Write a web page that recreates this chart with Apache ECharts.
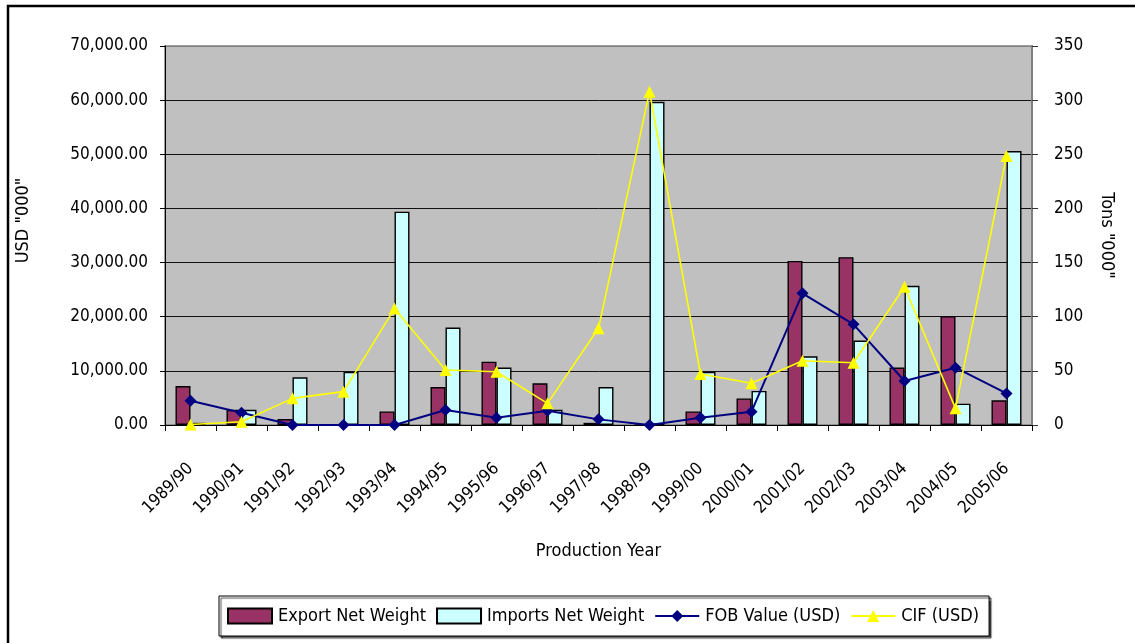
<!DOCTYPE html>
<html>
<head>
<meta charset="utf-8">
<script src="https://cdn.jsdelivr.net/npm/echarts@6/dist/echarts.min.js"></script>
<style>
html,body{margin:0;padding:0;background:#fff;overflow:hidden;}
#chart{width:1135px;height:643px;}
</style>
</head>
<body>
<div id="chart"></div>
<script>
// Categories
const years = ['1989/90','1990/91','1991/92','1992/93','1993/94','1994/95','1995/96','1996/97','1997/98','1998/99','1999/00','2000/01','2001/02','2002/03','2003/04','2004/05','2005/06'];
// Tons "000" (right axis)
const exportNetWeight = [36, 14, 5.5, 0, 12.5, 35, 58.5, 38.5, 2, 0, 12.5, 24.5, 151.5, 155, 53, 100.5, 22.8];
const importsNetWeight = [2, 14, 44, 49, 197, 90, 53, 14, 35, 298.5, 49, 31.5, 63.5, 78, 128.5, 19.7, 253];
// USD "000" (left axis)
const fobValue = [4480, 2280, 0, 0, 0, 2780, 1360, 2640, 1040, 0, 1360, 2460, 24320, 18600, 8120, 10580, 5840];
const cifValue = [100, 600, 4920, 6160, 21500, 10160, 9840, 4000, 17860, 61560, 9420, 7700, 11880, 11500, 25540, 3080, 49680];
// Tick settings
const usdMax = 70000, usdStep = 10000;
const tonsMax = 350, tonsStep = 50;

const FONT = "'Liberation Sans Narrow','Arial Narrow','DejaVu Sans Condensed',sans-serif";
const chart = echarts.init(document.getElementById('chart'), null, {renderer:'canvas'});

const fmtUsd = v => Number(v).toLocaleString('en-US',{minimumFractionDigits:2,maximumFractionDigits:2});

chart.setOption({
  animation:false,
  backgroundColor:'#ffffff',
  textStyle:{fontFamily:FONT},
  graphic:[{
    type:'rect', silent:true, z:-10,
    shape:{x:8, y:6, width:1200, height:700},
    style:{fill:'none', stroke:'#000', lineWidth:2.5}
  }],
  grid:{
    left:165, right:103, top:46, bottom:218,
    show:true, backgroundColor:'#C0C0C0', borderColor:'#808080', borderWidth:1.5
  },
  legend:{
    left:219, top:596,
    padding:[11,10,11,8],
    itemGap:10, itemWidth:44, itemHeight:15,
    backgroundColor:'#fff', borderColor:'#000', borderWidth:1,
    shadowColor:'rgba(0,0,0,0.7)', shadowOffsetX:2, shadowOffsetY:2, shadowBlur:1,
    textStyle:{fontFamily:FONT, fontSize:18, color:'#000', padding:[0,0,0,1]},
    data:[
      {name:'Export Net Weight', icon:'rect'},
      {name:'Imports Net Weight', icon:'rect'},
      {name:'FOB Value (USD)'},
      {name:'CIF (USD)'}
    ]
  },
  xAxis:{
    type:'category', data:years,
    name:'Production Year', nameLocation:'middle', nameGap:117,
    nameTextStyle:{fontFamily:FONT, fontSize:18, color:'#000'},
    axisLine:{lineStyle:{color:'#000', width:1}},
    axisTick:{show:true, interval:0, length:6, lineStyle:{color:'#000'}},
    axisLabel:{interval:0, rotate:45, margin:41, fontFamily:FONT, fontSize:17, color:'#000'}
  },
  yAxis:[{
    type:'value', min:0, max:usdMax, interval:usdStep, position:'left',
    name:'USD "000"', nameLocation:'middle', nameGap:133,
    nameTextStyle:{fontFamily:FONT, fontSize:18, color:'#000', padding:[0,0,0,30]},
    axisLine:{show:true, lineStyle:{color:'#000', width:1}},
    axisTick:{show:true, length:5, lineStyle:{color:'#000'}},
    axisLabel:{margin:17, fontFamily:FONT, fontSize:17, color:'#000', formatter:fmtUsd},
    splitLine:{show:true, lineStyle:{color:['#000','#111','#111','#111','#111','#111','#111','#808080'], width:1}}
  },{
    type:'value', min:0, max:tonsMax, interval:tonsStep, position:'right',
    name:'Tons "000"', nameLocation:'middle', nameGap:66, nameRotate:-90,
    nameTextStyle:{fontFamily:FONT, fontSize:18, color:'#000'},
    axisLine:{show:true, lineStyle:{color:'#808080', width:2}},
    axisTick:{show:true, length:6, lineStyle:{color:'#333'}},
    axisLabel:{margin:22, fontFamily:FONT, fontSize:17, color:'#000'},
    splitLine:{show:false}
  }],
  series:[{
    name:'Export Net Weight', type:'bar', yAxisIndex:1, data:exportNetWeight,
    barWidth:15, barGap:'0%',
    itemStyle:{color:'#993366', borderColor:'#000', borderWidth:1.4}
  },{
    name:'Imports Net Weight', type:'bar', yAxisIndex:1, data:importsNetWeight,
    barWidth:15, barGap:'0%',
    itemStyle:{color:'#CCFFFF', borderColor:'#000', borderWidth:1.4}
  },{
    name:'FOB Value (USD)', type:'line', yAxisIndex:0, data:fobValue,
    symbol:'diamond', symbolSize:12, showAllSymbol:true,
    lineStyle:{color:'#000080', width:2},
    itemStyle:{color:'#000080', borderWidth:0}, z:3
  },{
    name:'CIF (USD)', type:'line', yAxisIndex:0, data:cifValue,
    symbol:'triangle', symbolSize:12, showAllSymbol:true,
    lineStyle:{color:'#FFFF00', width:1.6},
    itemStyle:{color:'#FFFF00', borderWidth:0}, z:4
  }]
});
</script>
</body>
</html>
